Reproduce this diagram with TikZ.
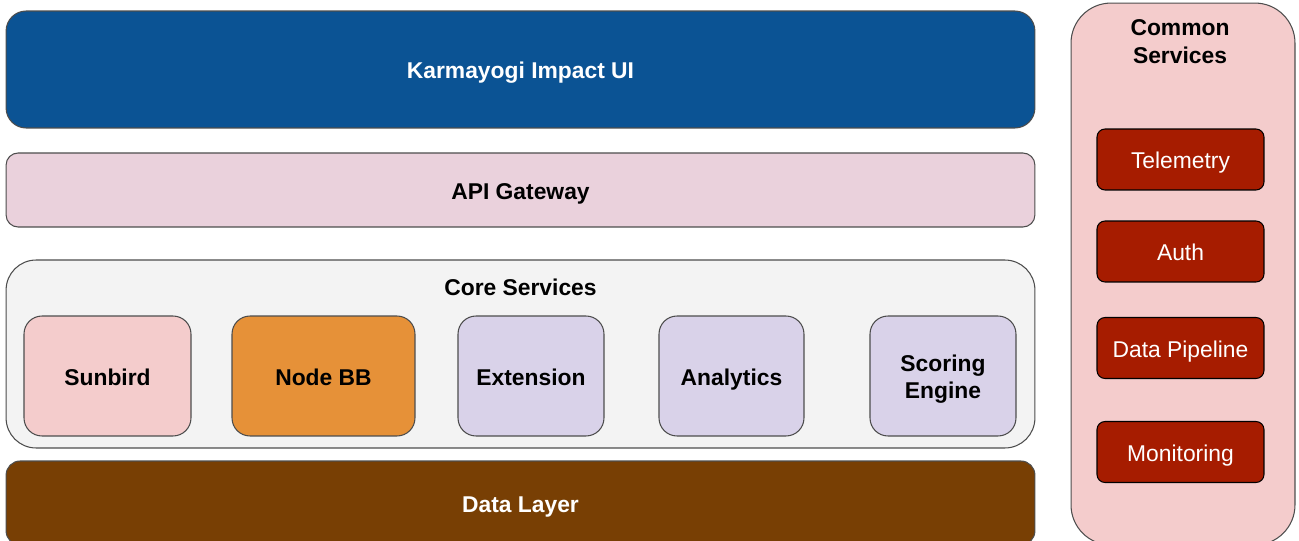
\documentclass[tikz,border=0pt]{standalone}
\usepackage{fontspec}
\setmainfont{Liberation Sans}
\definecolor{uiblue}{HTML}{0B5394}
\definecolor{gatepink}{HTML}{EAD1DC}
\definecolor{coregray}{HTML}{F3F3F3}
\definecolor{lightred}{HTML}{F4CCCC}
\definecolor{nodeorange}{HTML}{E69138}
\definecolor{lightpurple}{HTML}{D9D2E9}
\definecolor{databrown}{HTML}{783F04}
\definecolor{darkred}{HTML}{A61C00}
\definecolor{edgegray}{HTML}{4D4D4D}
\tikzset{
  capcenter/.style={text height=0.716em+3.2pt, text depth=0pt},
  layer/.style={draw=edgegray, line width=0.6pt, minimum width=20.58cm, capcenter,
    font=\fontsize{13}{15.5}\selectfont\bfseries},
  service/.style={draw=edgegray, line width=0.6pt, rounded corners=18*0.02cm,
    minimum height=2.4cm, font=\fontsize{13}{15.5}\selectfont\bfseries},
  common/.style={draw=black, line width=0.6pt, fill=darkred, text=white, capcenter,
    rounded corners=8*0.02cm, minimum width=3.34cm, minimum height=1.22cm,
    font=\fontsize{13}{15.5}\selectfont},
}
\begin{document}
\begin{tikzpicture}[x=0.02cm, y=-0.02cm]
        \useasboundingbox (0,0) rectangle (1299,541);
        % layers
        \node[layer, fill=uiblue, text=white, minimum height=2.34cm,
            rounded corners=20*0.02cm] (ui) at (520.5,69.5) {Karmayogi Impact UI};
        \node[layer, fill=gatepink, minimum height=1.48cm,
            rounded corners=12*0.02cm] (gateway) at (520.5,190) {API Gateway};
        \node[layer, fill=coregray, minimum height=3.76cm,
            rounded corners=30*0.02cm] (core) at (520.5,354) {};
        \node[capcenter, font=\fontsize{13}{15.5}\selectfont\bfseries] (coretitle) at (520.5,286) {Core Services};
        \node[layer, fill=databrown, text=white, minimum height=1.68cm,
            rounded corners=14*0.02cm] (data) at (520.5,503) {Data Layer};
        % core services
        \node[service, capcenter, fill=lightred, minimum width=3.34cm] (sunbird) at (107.5,376) {Sunbird};
        \node[service, capcenter, fill=nodeorange, minimum width=3.66cm] (nodebb) at (323.5,376) {Node BB};
        \node[service, capcenter, fill=lightpurple, minimum width=2.92cm] (extension) at (531,376) {Extension};
        \node[service, capcenter, fill=lightpurple, minimum width=2.9cm] (analytics) at (731.5,376) {Analytics};
        \node[service, fill=lightpurple, minimum width=2.92cm, text height=0pt, text depth=0pt] (scoring) at (943,376)
            {\smash{\raisebox{-5pt}{\begin{tabular}{@{}c@{}}Scoring\\Engine\end{tabular}}}};
        % common services
        \node[draw=edgegray, line width=0.6pt, fill=lightred, rounded corners=40*0.02cm,
            minimum width=4.48cm, minimum height=10.84cm] (commonbox) at (1183,274) {};
        \node[align=center, font=\fontsize{13}{16}\selectfont\bfseries] (commontitle) at (1180,42) {Common\\Services};
        \node[common] (telemetry) at (1180.5,159.5) {Telemetry};
        \node[common] (auth) at (1180.5,251.5) {Auth};
        \node[common] (pipeline) at (1180.5,348) {Data Pipeline};
        \node[common] (monitoring) at (1180.5,452) {Monitoring};
\end{tikzpicture}
\end{document}
